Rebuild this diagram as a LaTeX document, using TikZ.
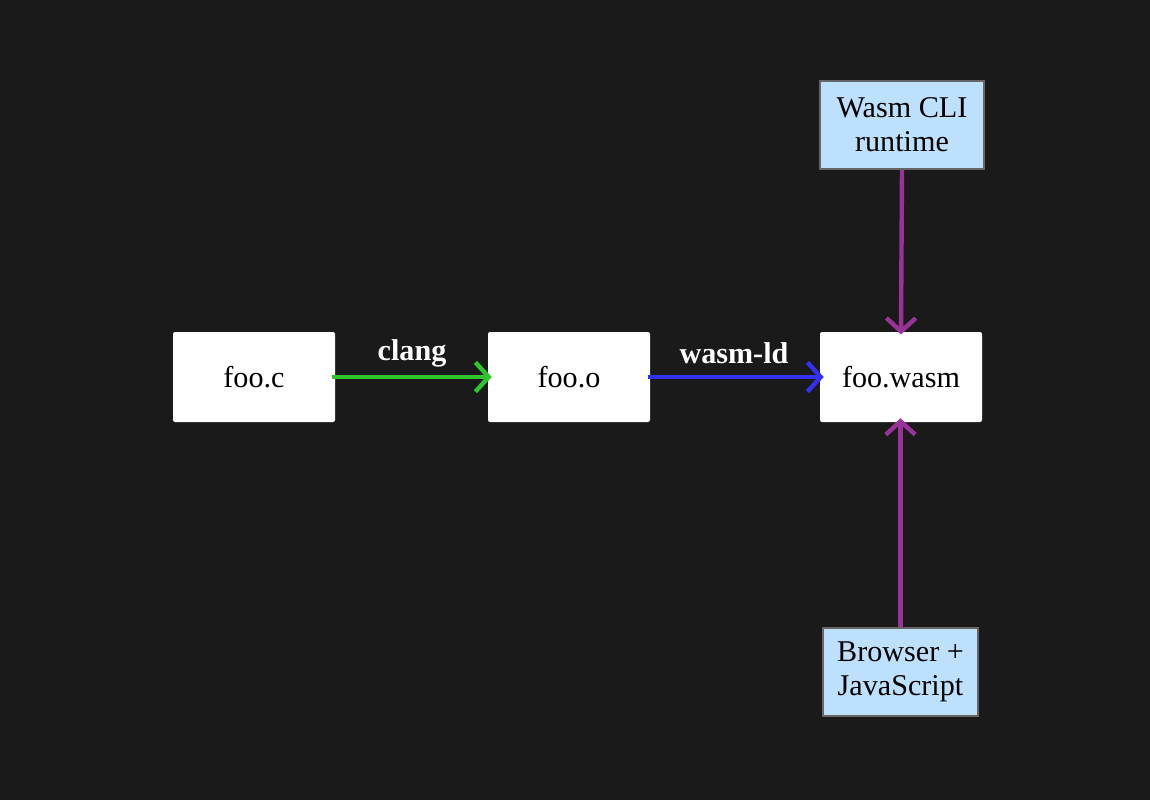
\documentclass[tikz,border=0pt]{standalone}
\usepackage{fontspec}
\setmainfont{Liberation Serif}
\usetikzlibrary{arrows.meta}
\definecolor{bg}{HTML}{1A1A1A}
\definecolor{gflow}{HTML}{2EC52E}
\definecolor{bflow}{HTML}{3232EE}
\definecolor{pflow}{HTML}{993399}
\definecolor{lblue}{HTML}{BDE0FD}
\definecolor{bord}{HTML}{666666}
\tikzset{
  whitebox/.style={fill=white, draw=none, rounded corners=1.5pt, minimum width=121.5pt, minimum height=67.5pt, inner sep=0pt, align=center, font=\fontsize{22.6}{25.5}\selectfont},
  bluebox/.style={fill=lblue, draw=bord, line width=1.5pt, inner sep=0pt, align=center, font=\fontsize{22.6}{25.5}\selectfont},
  flow/.style={line width=3.3pt, -{Straight Barb[length=10pt,width=22pt,line width=3.3pt]}},
  lbl/.style={text=white, font=\bfseries\fontsize{22.6}{25.5}\selectfont, inner sep=0pt}
}
\begin{document}
\begin{tikzpicture}[x=0.75pt,y=-0.75pt]
\fill[bg] (0,0) rectangle (1150,800);
\useasboundingbox (0,0) rectangle (1150,800);
\node[whitebox] (fooc) at (254,377) {foo.c};
\node[whitebox] (fooo) at (569,377) {foo.o};
\node[whitebox] (wasm) at (901,377) {foo.wasm};
\node[bluebox, minimum width=123pt, minimum height=66pt] (cli) at (902,125) {Wasm CLI\\runtime};
\node[bluebox, minimum width=116.5pt, minimum height=66pt] (brw) at (900.5,672) {Browser +\\JavaScript};
\draw[flow, gflow, shorten <=-2.2pt, shorten >=-3pt] (fooc.east) -- (fooo.west);
\draw[flow, bflow, shorten <=-1.5pt, shorten >=-3pt] (fooo.east) -- (wasm.west);
\draw[flow, pflow, shorten >=-2pt] (cli.south) -- (wasm.north);
\draw[flow, pflow, shorten >=-3pt] (brw.north) -- (wasm.south -| brw.north);
\node[lbl] (clang) at (412,353) {clang};
\node[lbl] (wld) at (734,353) {wasm-ld};
\end{tikzpicture}
\end{document}
